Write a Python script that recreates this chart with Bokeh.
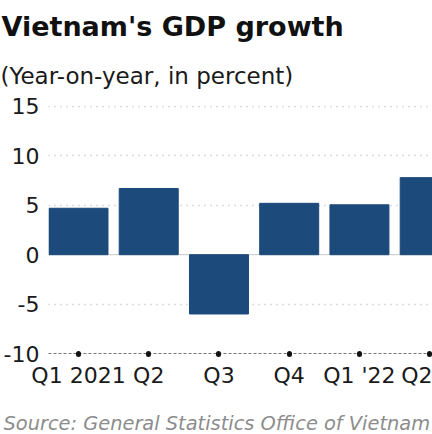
from bokeh.plotting import figure
from bokeh.models import FixedTicker, Span, Range1d, Title
from bokeh.embed import file_html
from bokeh.resources import INLINE

# ---- data ----
quarters = ["Q1 2021", "Q2", "Q3", "Q4", "Q1 '22", "Q2"]
growth = [4.7, 6.7, -6.0, 5.2, 5.05, 7.8]
y_ticks = [-10, -5, 0, 5, 10, 15]
y_tick_labels = ["-10", "-5", "0", "5", "10", "15"]
title_text = "Vietnam's GDP growth"
subtitle_text = "(Year-on-year, in percent)"
source_text = "Source: General Statistics Office of Vietnam"

idx = list(range(len(quarters)))
FONT = "DejaVu Sans"
BAR = "#1c4a7b"

p = figure(width=432, height=434, output_backend="svg", toolbar_location=None,
           x_range=Range1d(-0.427, 5.04), y_range=Range1d(-10, 15.1),
           min_border_left=48, min_border_right=0, min_border_top=105,
           min_border_bottom=80)
p.outline_line_color = None
p.background_fill_color = "white"
p.border_fill_color = "white"

# zero line (under bars)
p.add_layout(Span(location=0, dimension="width", line_color="#c8c8c8",
                  line_width=1, level="underlay"))

p.vbar(x=idx, top=growth, bottom=0, width=0.84, color=BAR, line_color=BAR)

# y axis
p.yaxis.ticker = FixedTicker(ticks=y_ticks)
p.yaxis.major_label_overrides = {t: s for t, s in zip(y_ticks, y_tick_labels)}
p.yaxis.axis_line_color = None
p.yaxis.major_tick_line_color = None
p.yaxis.minor_tick_line_color = None
p.yaxis.major_label_text_font = FONT
p.yaxis.major_label_text_font_size = "22px"
p.yaxis.major_label_text_color = "#1a1a1a"
p.yaxis.major_label_standoff = 3

# x axis
p.xaxis.ticker = FixedTicker(ticks=idx)
p.xaxis.major_label_overrides = {i: q for i, q in zip(idx, quarters)}
p.xaxis.axis_line_color = "#777777"
p.xaxis.axis_line_dash = "3 2"
p.xaxis.axis_line_width = 1
p.xaxis.major_tick_line_color = "#111111"
p.xaxis.major_tick_line_width = 5
p.xaxis.major_tick_line_cap = "round"
p.xaxis.major_tick_in = 0
p.xaxis.major_tick_out = 1
p.xaxis.minor_tick_line_color = None
p.xaxis.major_label_text_font = FONT
p.xaxis.major_label_text_font_size = "22px"
p.xaxis.major_label_text_color = "#1a1a1a"
p.xaxis.major_label_standoff = 8
# blank axis label used only as vertical spacing before the source line
p.xaxis.axis_label = " "
p.xaxis.axis_label_text_font_size = "10px"
p.xaxis.axis_label_standoff = 5

# grid
p.xgrid.grid_line_color = None
p.ygrid.ticker = FixedTicker(ticks=[t for t in y_ticks if t not in (0, -10)])
p.ygrid.grid_line_color = "#b5b5b5"
p.ygrid.grid_line_dash = "1 5"
p.ygrid.grid_line_width = 1.3

# titles
p.add_layout(Title(text=subtitle_text, text_font=FONT, text_font_size="23px",
                   text_font_style="normal", text_color="#1a1a1a",
                   align="left", offset=-48, standoff=34), "above")
p.add_layout(Title(text=title_text, text_font=FONT, text_font_size="27px",
                   text_font_style="bold", text_color="#111111",
                   align="left", offset=-47, standoff=4), "above")
p.add_layout(Title(text=source_text, text_font=FONT, text_font_size="19.4px",
                   text_font_style="italic", text_color="#8c8c8c",
                   align="left", offset=-45, standoff=0), "below")

open("out.html", "w").write(file_html(p, INLINE))
